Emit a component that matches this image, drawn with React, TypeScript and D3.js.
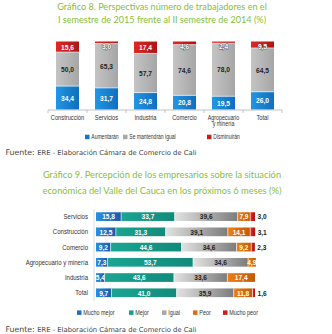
import React from "react";
import * as d3 from "d3";

// ---------- Chart 8 data ----------
const cats1 = ["Construcción", "Servicios", "Industria", "Comercio", "Agropecuario y minería", "Total"];
const aumentaran = [34.4, 31.7, 24.8, 20.8, 19.5, 26.0];
const mantendran = [50.0, 65.3, 57.7, 74.6, 78.0, 64.5];
const disminuiran = [15.6, 3.0, 17.4, 4.6, 2.4, 9.5];
const legend1 = ["Aumentarán", "Se mantendrán igual", "Disminuirán"];

// ---------- Chart 9 data ----------
const cats2 = ["Servicios", "Construcción", "Comercio", "Agropecuario y minería", "Industria", "Total"];
const muchoMejor = [15.8, 12.5, 9.2, 7.3, 5.4, 9.7];
const mejor = [33.7, 31.3, 44.6, 53.7, 43.6, 41.0];
const igual = [39.6, 39.1, 34.6, 34.6, 33.6, 35.9];
const peor = [7.9, 14.1, 9.2, 4.9, 17.4, 11.8];
const muchoPeor = [3.0, 3.1, 2.3, 0, 0, 1.6];
const legend2 = ["Mucho mejor", "Mejor", "Igual", "Peor", "Mucho peor"];

const title1 = ["Gráfico 8. Perspectivas número de trabajadores en el", "I semestre de 2015 frente al II semestre de 2014 (%)"];
const title2 = ["Gráfico 9. Percepción de los empresarios sobre la situación", "económica del Valle del Cauca en los próximos 6 meses (%)"];
const sourceText = "ERE - Elaboración Cámara de Comercio de Cali";

const fmt = (v: number) => v.toFixed(1).replace(".", ",");

const GREEN = "#84bf3c";
const SANS = "'Liberation Sans', Arial, sans-serif";
const TITLEF = "Lato, 'Open Sans', sans-serif";

type NProps = {
  x: number;
  y: number;
  anchor?: "start" | "middle" | "end";
  size?: number;
  fill?: string;
  bold?: boolean;
  sx?: number;
  stroke?: string;
  children: React.ReactNode;
};

function NText({ x, y, anchor = "start", size = 7.4, fill = "#333", bold = false, sx = 0.84, stroke, children }: NProps) {
  return (
    <text
      transform={`translate(${x},${y}) scale(${sx},1)`}
      textAnchor={anchor}
      dy="0.35em"
      fontFamily={SANS}
      fontSize={size}
      fontWeight={bold ? "bold" : "normal"}
      fill={fill}
      stroke={stroke || "none"}
      strokeWidth={stroke ? 0.9 : 0}
      style={{ paintOrder: "stroke" }}
    >
      {children}
    </text>
  );
}

export default function App() {
  // chart 1 scales
  const x1 = d3.scaleBand<string>().domain(cats1).range([48, 282]).paddingInner(0.41).paddingOuter(0.205);
  const y1 = d3.scaleLinear().domain([0, 100]).range([109.5, 41.5]);
  const series1 = [aumentaran, mantendran, disminuiran];
  const fill1 = ["url(#g1b)", "url(#g1g)", "url(#g1r)"];
  const leg1Col = ["#1677c8", "#a8a8a8", "#c81e1e"];
  const leg1X = [85, 123, 207];

  // chart 2 scales
  const y2 = d3.scaleBand<string>().domain(cats2).range([209, 300.4]).paddingInner(0.43).paddingOuter(0.215);
  const x2 = d3.scaleLinear().domain([0, 100]).range([96, 255]);
  const series2 = [muchoMejor, mejor, igual, peor, muchoPeor];
  const fill2 = ["url(#g2b)", "url(#g2t)", "url(#g2g)", "url(#g2o)", "url(#g2r)"];
  const lab2Col = ["#fff", "#fff", "#222", "#fff", "#222"];
  const leg2Col = ["#1f6fc0", "#17a08e", "#a6a6a6", "#e06c10", "#c81e1e"];
  const leg2X = [77, 129, 162, 193, 223];

  const bars1: React.ReactNode[] = [];
  cats1.forEach((c, i) => {
    let cum = 0;
    series1.forEach((s, k) => {
      const v = s[i];
      const yTop = y1(cum + v);
      const yBot = y1(cum);
      cum += v;
      const x = x1(c)!;
      const bw = x1.bandwidth();
      bars1.push(
        <rect key={`r${i}-${k}`} x={x} y={yTop} width={bw} height={Math.max(0, yBot - yTop)} fill={fill1[k]} />
      );
      if (k > 0) {
        bars1.push(<line key={`l${i}-${k}`} x1={x} x2={x + bw} y1={yBot} y2={yBot} stroke="#fff" strokeWidth={0.6} />);
      }
      const mid = (yTop + yBot) / 2;
      const ly = k === 2 ? Math.max(mid, y1(100) + 5.2) : mid;
      const small = k === 2 && v < 10;
      bars1.push(
        <NText key={`t${i}-${k}`} x={x + bw / 2} y={ly} anchor="middle" bold size={7.9} fill={k === 1 ? "#222" : "#fff"} stroke={small ? "#555" : undefined}>
          {fmt(v)}
        </NText>
      );
    });
  });

  const bars2: React.ReactNode[] = [];
  cats2.forEach((c, i) => {
    let cum = 0;
    const y = y2(c)!;
    const bh = y2.bandwidth();
    series2.forEach((s, k) => {
      const v = s[i];
      const xa = x2(cum);
      const xb = x2(cum + v);
      cum += v;
      if (v <= 0) return;
      bars2.push(<rect key={`r${i}-${k}`} x={xa} y={y} width={xb - xa} height={bh} fill={fill2[k]} />);
      if (k > 0) {
        bars2.push(<line key={`l${i}-${k}`} x1={xa} x2={xa} y1={y} y2={y + bh} stroke="#fff" strokeWidth={0.6} />);
      }
      if (k === 4) {
        bars2.push(
          <NText key={`t${i}-${k}`} x={xb + 2.5} y={y + bh / 2} bold size={7.8} fill="#222">
            {fmt(v)}
          </NText>
        );
      } else {
        bars2.push(
          <NText key={`t${i}-${k}`} x={(xa + xb) / 2} y={y + bh / 2} anchor="middle" bold size={7.8} fill={lab2Col[k]}>
            {fmt(v)}
          </NText>
        );
      }
    });
  });

  return (
    <svg width={332} height={334} style={{ position: "absolute", left: 0, top: 0, background: "#fff" }}>
      <defs>
        <linearGradient id="g1b" x1="0" x2="1" y1="0" y2="0">
          <stop offset="0" stopColor="#2496e3" />
          <stop offset="1" stopColor="#0e6fbd" />
        </linearGradient>
        <linearGradient id="g1g" x1="0" x2="1" y1="0" y2="0">
          <stop offset="0" stopColor="#c4c4c4" />
          <stop offset="1" stopColor="#a6a6a6" />
        </linearGradient>
        <linearGradient id="g1r" x1="0" x2="1" y1="0" y2="0">
          <stop offset="0" stopColor="#dc2a24" />
          <stop offset="1" stopColor="#ad1414" />
        </linearGradient>
        <linearGradient id="g2b" x1="0" x2="1" y1="0" y2="0">
          <stop offset="0" stopColor="#2a8fe0" />
          <stop offset="1" stopColor="#1c5aa8" />
        </linearGradient>
        <linearGradient id="g2t" x1="0" x2="1" y1="0" y2="0">
          <stop offset="0" stopColor="#1aa592" />
          <stop offset="1" stopColor="#128a7a" />
        </linearGradient>
        <linearGradient id="g2g" x1="0" x2="1" y1="0" y2="0">
          <stop offset="0" stopColor="#e2e2e2" />
          <stop offset="1" stopColor="#7c7c7c" />
        </linearGradient>
        <linearGradient id="g2o" x1="0" x2="1" y1="0" y2="0">
          <stop offset="0" stopColor="#ec7f16" />
          <stop offset="1" stopColor="#c45806" />
        </linearGradient>
        <linearGradient id="g2r" x1="0" x2="1" y1="0" y2="0">
          <stop offset="0" stopColor="#e42a22" />
          <stop offset="1" stopColor="#b01010" />
        </linearGradient>
      </defs>

      {/* Title 1 */}
      {title1.map((t, i) => (
        <text key={`ti1${i}`} x={162} y={9.5 + i * 13.3} textAnchor="middle" fontFamily={TITLEF} fontSize={9.1} fill={GREEN}>
          {t}
        </text>
      ))}

      {/* Chart 1 */}
      {bars1}
      <line x1={48} x2={282} y1={110} y2={110} stroke="#aaa" strokeWidth={0.7} />
      {d3.range(cats1.length + 1).map((j) => {
        const xt = 48 + j * x1.step();
        return <line key={`tk${j}`} x1={xt} x2={xt} y1={110} y2={113} stroke="#aaa" strokeWidth={0.7} />;
      })}
      {cats1.map((c) => {
        const cx = x1(c)! + x1.bandwidth() / 2;
        const parts = c === "Agropecuario y minería" ? ["Agropecuario", "y minería"] : [c];
        const size = parts.length > 1 ? 6.6 : 7.2;
        return parts.map((p, j) => (
          <NText key={`cl${c}${j}`} x={cx} y={117.2 + j * 6.4} anchor="middle" size={size} sx={0.8}>
            {p}
          </NText>
        ));
      })}
      {legend1.map((l, i) => (
        <g key={`lg1${i}`}>
          <rect x={leg1X[i]} y={134.7} width={4.5} height={4.5} fill={leg1Col[i]} />
          <NText x={leg1X[i] + 6.3} y={137} size={6.8} sx={0.74}>
            {l}
          </NText>
        </g>
      ))}

      {/* Source 1 */}
      <text x={5.5} y={154.5} fontFamily="'DejaVu Sans', sans-serif" fill="#444">
        <tspan fontSize={7.8}>Fuente: </tspan>
        <tspan fontSize={6.8}>{sourceText}</tspan>
      </text>

      {/* Title 2 */}
      {title2.map((t, i) => (
        <text key={`ti2${i}`} x={162} y={178.3 + i * 15.5} textAnchor="middle" fontFamily={TITLEF} fontSize={9.3} fill={GREEN}>
          {t}
        </text>
      ))}

      {/* Chart 2 */}
      <line x1={94} x2={94} y1={209} y2={301} stroke="#ccc" strokeWidth={0.7} />
      {bars2}
      {cats2.map((c) => (
        <NText key={`cl2${c}`} x={88} y={y2(c)! + y2.bandwidth() / 2} anchor="end" size={7.2} sx={0.84}>
          {c}
        </NText>
      ))}
      {legend2.map((l, i) => (
        <g key={`lg2${i}`}>
          <rect x={leg2X[i]} y={310.4} width={4.5} height={4.5} fill={leg2Col[i]} />
          <NText x={leg2X[i] + 6.3} y={312.7} size={6.8} sx={0.8}>
            {l}
          </NText>
        </g>
      ))}

      {/* Source 2 */}
      <text x={5.5} y={331.5} fontFamily="'DejaVu Sans', sans-serif" fill="#444">
        <tspan fontSize={7.8}>Fuente: </tspan>
        <tspan fontSize={6.8}>{sourceText}</tspan>
      </text>
    </svg>
  );
}
